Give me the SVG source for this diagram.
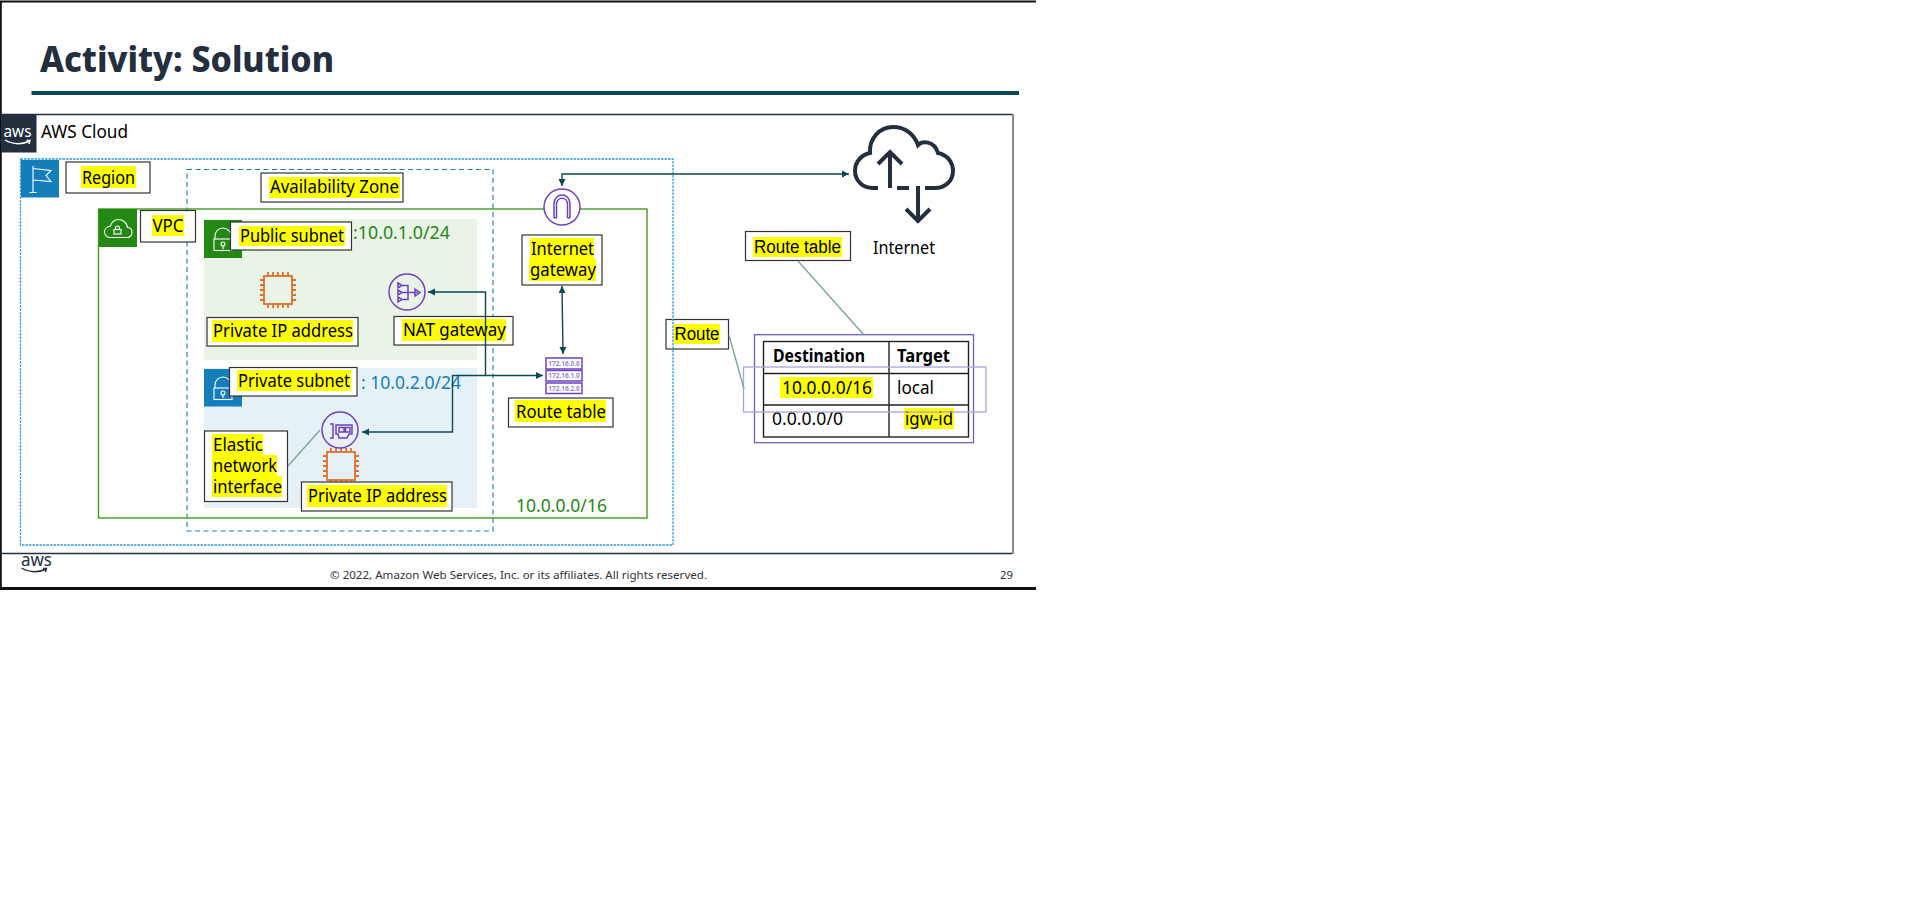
<svg xmlns="http://www.w3.org/2000/svg" xmlns:xlink="http://www.w3.org/1999/xlink" width="1914" height="903" viewBox="0 0 1914 903">
<style>
text{font-family:"Noto Sans","Open Sans","Liberation Sans",sans-serif;fill:#000}
.l{font-size:18px}
.ar{font-family:"Liberation Sans",Arial,sans-serif;font-size:18px}
.box{fill:#fff;stroke:#333;stroke-width:1.2}
.hl{fill:#ff0}
.conn{fill:none;stroke:#0b4a55;stroke-width:1.4}
.lead{fill:none;stroke:#7fa3a8;stroke-width:1.4}
.pic{fill:none;stroke:#6f42c1;stroke-width:1.5}
.wh{fill:none;stroke:#fff;stroke-width:1.1}
.chip{fill:none;stroke:#e0702a;stroke-width:1.8}
.ip{font-size:6.500px;font-weight:700;fill:#9a86d8}
</style>
<defs>
<marker id="a" markerUnits="userSpaceOnUse" markerWidth="8" markerHeight="8" refX="7" refY="4" orient="auto-start-reverse"><path d="M0 .5L7 4L0 7.5z" fill="#0b4a55"/></marker>
<g id="chip"><rect class="chip" x="-14" y="-14" width="28" height="28"/><path class="chip" d="M-10-14v-4M-5-14v-4M0-14v-4M5-14v-4M10-14v-4M-10 14v4M-5 14v4M0 14v4M5 14v4M10 14v4M-14-10h-4M-14-5h-4M-14 0h-4M-14 5h-4M-14 10h-4M14-10h4M14-5h4M14 0h4M14 5h4M14 10h4"/></g>
<g id="lock"><path class="wh" d="M11 19v-3a8 8 0 0 1 16 0v3"/><rect class="wh" x="10" y="19" width="18" height="11.500"/><circle class="wh" cx="19" cy="24" r="2"/><path class="wh" d="M19 26v3"/></g>
<path id="smile" d="M0 0C6 3.500 15 5 24 1.500M21.500 0.500L25 0.500L24 4" fill="none" stroke-width="1.400"/>
</defs>
<rect width="1914" height="903" fill="#fff"/>
<g id="slide-frame">
<path d="M0 1.500H1036M.8 1V588" fill="none" stroke="#111" stroke-width="2"/>
<path d="M0 588.500H1036" stroke="#111" stroke-width="3"/>
</g>
<g id="title">
<text x="40" y="72" font-size="36" font-weight="800" textLength="294" lengthAdjust="spacingAndGlyphs" style="fill:#232f3e">Activity: Solution</text>
<rect x="31.500" y="91" width="987.500" height="4" fill="#0b4a55"/>
</g>
<g id="aws-cloud">
<path d="M0 114.500H1013M0 553.500H1013" fill="none" stroke="#232f3e" stroke-width="1.300"/>
<path d="M1013 114V554" stroke="#878b90" stroke-width="2"/>
<rect x="1" y="114" width="35.500" height="38.500" fill="#232f3e"/>
<text x="3.500" y="137" font-size="16" textLength="28" lengthAdjust="spacingAndGlyphs" style="fill:#fff">aws</text>
<use href="#smile" x="5" y="140" stroke="#fff"/>
<text class="l" x="41" y="138" textLength="87" lengthAdjust="spacingAndGlyphs">AWS Cloud</text>
</g>
<g id="label-route">
<rect class="box" x="666" y="319.500" width="62.500" height="29.500"/>
<rect class="hl" x="674" y="324" width="46" height="20"/>
<text class="ar" x="674.500" y="340" textLength="45" lengthAdjust="spacingAndGlyphs">Route</text>
</g>
<g id="region">
<rect x="20.500" y="159" width="652.500" height="386" fill="none" stroke="#2e9bd6" stroke-width="1.300" stroke-dasharray="2.500 1"/>
<rect x="21" y="160" width="38" height="37.500" fill="#147eba"/>
<path class="wh" d="M33 166V192M29.500 192.500H36.500M33 168.500L51 170.500L46 175.500L51 181.500L33 180"/>
</g>
<g id="availability-zone">
<rect x="187" y="169.500" width="306" height="361.500" fill="none" stroke="#147eba" stroke-width="1.100" stroke-dasharray="5 3.500"/>
</g>
<g id="vpc">
<rect x="98.500" y="209" width="548.500" height="309" fill="none" stroke="#3f9c1f" stroke-width="1.400"/>
<rect x="99" y="209" width="38" height="38" fill="#248814"/>
<path class="wh" d="M110 237.500H127C131 237.500 132 234 132 232.500C132 229 130 227.500 127.500 227.500C127 222 122 219.500 118.500 219.500C114 219.500 111 223 110.500 226C107 226.500 104.500 229 104.500 232C104.500 235 107 237.500 110 237.500z"/>
<rect class="wh" x="114" y="229.500" width="7" height="4.500"/><path class="wh" d="M115.500 229.500v-1.500a2 2 0 0 1 4 0v1.500"/>
<text x="516" y="511.500" font-size="18" textLength="91" lengthAdjust="spacingAndGlyphs" style="fill:#248814">10.0.0.0/16</text>
</g>
<g id="public-subnet">
<rect x="204" y="219" width="273" height="141" fill="#e9f3e6"/>
<rect x="204" y="220" width="38" height="38" fill="#248814"/>
<use href="#lock" x="204" y="220"/>
<text x="353" y="239" font-size="18" textLength="97" lengthAdjust="spacingAndGlyphs" style="fill:#248814">:10.0.1.0/24</text>
</g>
<g id="private-subnet">
<rect x="204" y="368" width="273" height="140" fill="#e6f0f7"/>
<rect x="204" y="369" width="38" height="37.500" fill="#147eba"/>
<use href="#lock" x="204" y="369"/>
<text x="361" y="389" font-size="18" textLength="100" lengthAdjust="spacingAndGlyphs" style="fill:#147eba">: 10.0.2.0/24</text>
</g>
<g id="ec2-public"><use href="#chip" x="278" y="290"/></g>
<g id="ec2-private"><use href="#chip" x="341" y="466"/></g>
<g id="nat-gateway">
<circle class="pic" cx="407" cy="292" r="18"/>
<path class="pic" d="M398 283L402 285.500L398 288zM398 290L402 292.500L398 295zM398 297L402 299.500L398 302zM402 285.500H408V299.500H402M402 292.500H418M415 289L420 292.500L415 296z"/>
</g>
<g id="eni">
<circle class="pic" cx="340" cy="430" r="18"/>
<path class="pic" d="M330 424H333V438H330M336 425H352V434H349L347 438H339L338 434H336zM339 427.500H344V432H339zM345.500 427.500H350V432H345.500z"/>
</g>
<g id="internet-gateway">
<circle class="pic" cx="562" cy="207" r="18" style="fill:#fff"/>
<path class="pic" d="M554 218V204C554 192 570 192 570 204V218M556.500 218V204.500C556.500 196 567.500 196 567.500 204.500V218M554 218H556.500M567.500 218H570"/>
</g>
<g id="route-table-icon">
<rect class="pic" x="546" y="358" width="36" height="11"/><text class="ip" x="564" y="366" text-anchor="middle">172.16.0.0</text>
<rect class="pic" x="546" y="370.500" width="36" height="10.500"/><text class="ip" x="564" y="378.300" text-anchor="middle">172.16.1.0</text>
<rect class="pic" x="546" y="383" width="36" height="10.500"/><text class="ip" x="564" y="390.800" text-anchor="middle">172.16.2.0</text>
</g>
<g id="internet">
<g fill="none" stroke="#232f3e" stroke-width="4">
<path d="M878 188H873C862 188 855 180 855 171C855 162 861 155 870 153C869 138 880 127 893 127C905 127 914 134 918 145C922 141 934 140 938 153C948 155 953 163 953 171C953 181 945 188 935 188H925M897 188H909"/>
<path d="M890 188V152M878 164L890 152L902 164M918 186V221M906 209L918 221L930 209"/>
</g>
<text class="l" x="873" y="254" textLength="62" lengthAdjust="spacingAndGlyphs">Internet</text>
</g>
<g id="route-table">
<g fill="none" stroke="#222" stroke-width="1.400">
<rect x="763.500" y="341.500" width="205" height="95.500"/>
<path d="M763.500 373.500H968.500M763.500 405H968.500M889 341.500V437"/>
</g>
<text class="l" x="773" y="362" font-weight="700" textLength="92" lengthAdjust="spacingAndGlyphs">Destination</text>
<text class="l" x="897" y="362" font-weight="700" textLength="53" lengthAdjust="spacingAndGlyphs">Target</text>
<rect class="hl" x="780" y="377" width="93" height="21"/>
<text class="l" x="782" y="394" textLength="90" lengthAdjust="spacingAndGlyphs">10.0.0.0/16</text>
<text class="l" x="897" y="394" textLength="37" lengthAdjust="spacingAndGlyphs">local</text>
<text class="l" x="772" y="425" textLength="71" lengthAdjust="spacingAndGlyphs">0.0.0.0/0</text>
<rect class="hl" x="904" y="408" width="50" height="21"/>
<text class="l" x="905" y="425" textLength="48" lengthAdjust="spacingAndGlyphs">igw-id</text>
<rect x="754.500" y="334.700" width="219" height="108" fill="none" stroke="#6b62c4" stroke-width="1.300"/>
<rect x="743.500" y="367" width="242.500" height="45" fill="none" stroke="#a9a5dc" stroke-width="1.300"/>
</g>
<g id="label-region"><rect class="box" x="66" y="162" width="84" height="31"/><rect class="hl" x="81" y="166" width="55" height="22"/><text class="l" x="82" y="184" textLength="53" lengthAdjust="spacingAndGlyphs">Region</text></g>
<g id="label-az"><rect class="box" x="261" y="173" width="142" height="29"/><rect class="hl" x="269" y="177" width="131" height="21"/><text class="l" x="270" y="193" textLength="129" lengthAdjust="spacingAndGlyphs">Availability Zone</text></g>
<g id="label-vpc"><rect class="box" x="140.500" y="210.500" width="55" height="31.500"/><rect class="hl" x="152" y="215" width="32" height="21"/><text class="l" x="152.500" y="232" textLength="31" lengthAdjust="spacingAndGlyphs">VPC</text></g>
<g id="label-public-subnet"><rect class="box" x="230.500" y="222" width="121" height="28"/><rect class="hl" x="239" y="226" width="106" height="20"/><text class="l" x="240" y="242" textLength="104" lengthAdjust="spacingAndGlyphs">Public subnet</text></g>
<g id="label-private-ip-1"><rect class="box" x="207" y="317.500" width="151" height="28.500"/><rect class="hl" x="212" y="320" width="141" height="22"/><text class="l" x="213" y="337" textLength="140" lengthAdjust="spacingAndGlyphs">Private IP address</text></g>
<g id="label-nat"><rect class="box" x="394" y="316.500" width="119" height="28.500"/><rect class="hl" x="402" y="319" width="104" height="22"/><text class="l" x="403" y="336" textLength="103" lengthAdjust="spacingAndGlyphs">NAT gateway</text></g>
<g id="label-private-subnet"><rect class="box" x="229.500" y="367.500" width="127.500" height="28.500"/><rect class="hl" x="237" y="370" width="114" height="21"/><text class="l" x="238" y="387" textLength="112" lengthAdjust="spacingAndGlyphs">Private subnet</text></g>
<g id="label-eni"><rect class="box" x="204.500" y="431" width="83" height="70.500"/>
<rect class="hl" x="212" y="434" width="51" height="21"/><rect class="hl" x="212" y="455" width="65" height="21"/><rect class="hl" x="212" y="476" width="70" height="21"/>
<text class="l" x="213" y="451" textLength="50" lengthAdjust="spacingAndGlyphs">Elastic</text><text class="l" x="213" y="472" textLength="64" lengthAdjust="spacingAndGlyphs">network</text><text class="l" x="213" y="493" textLength="69" lengthAdjust="spacingAndGlyphs">interface</text></g>
<g id="label-private-ip-2"><rect class="box" x="301.500" y="482" width="150.500" height="29"/><rect class="hl" x="307" y="485" width="140" height="22"/><text class="l" x="308" y="502" textLength="139" lengthAdjust="spacingAndGlyphs">Private IP address</text></g>
<g id="label-igw"><rect class="box" x="522" y="235" width="80" height="50"/><rect class="hl" x="530" y="238" width="64" height="21"/><rect class="hl" x="529" y="259" width="67" height="22"/><text class="l" x="531" y="255" textLength="63" lengthAdjust="spacingAndGlyphs">Internet</text><text class="l" x="530" y="276" textLength="66" lengthAdjust="spacingAndGlyphs">gateway</text></g>
<g id="label-route-table"><rect class="box" x="508.500" y="398" width="104.500" height="29"/><rect class="hl" x="515" y="400" width="91" height="22"/><text class="l" x="516" y="418" textLength="90" lengthAdjust="spacingAndGlyphs">Route table</text></g>
<g id="label-route-table-2"><rect class="box" x="745.500" y="231.500" width="105" height="29"/><rect class="hl" x="753" y="237" width="89" height="20"/><text class="ar" x="754" y="253" textLength="87" lengthAdjust="spacingAndGlyphs">Route table</text></g>
<g id="connectors">
<path class="conn" d="M849 174H562V186" marker-start="url(#a)" marker-end="url(#a)"/>
<path class="conn" d="M562 286L563 354" marker-start="url(#a)" marker-end="url(#a)"/>
<path class="conn" d="M428 292H485.500V375.500" marker-start="url(#a)"/>
<path class="conn" d="M362 432H452.500V375.500H543" marker-start="url(#a)" marker-end="url(#a)"/>
<path class="lead" d="M288 466L320 430M798 261L864 335M729 335L744 389"/>
</g>
<g id="footer">
<text x="21" y="566" font-size="18" textLength="31" lengthAdjust="spacingAndGlyphs" style="fill:#232f3e">aws</text>
<use href="#smile" x="21.500" y="568" stroke="#232f3e"/>
<text x="330" y="579" font-size="11.500" textLength="377" lengthAdjust="spacingAndGlyphs" style="fill:#333">© 2022, Amazon Web Services, Inc. or its affiliates. All rights reserved.</text>
<text x="1000" y="579" font-size="11.500" textLength="13" lengthAdjust="spacingAndGlyphs" style="fill:#333">29</text>
</g>
</svg>
